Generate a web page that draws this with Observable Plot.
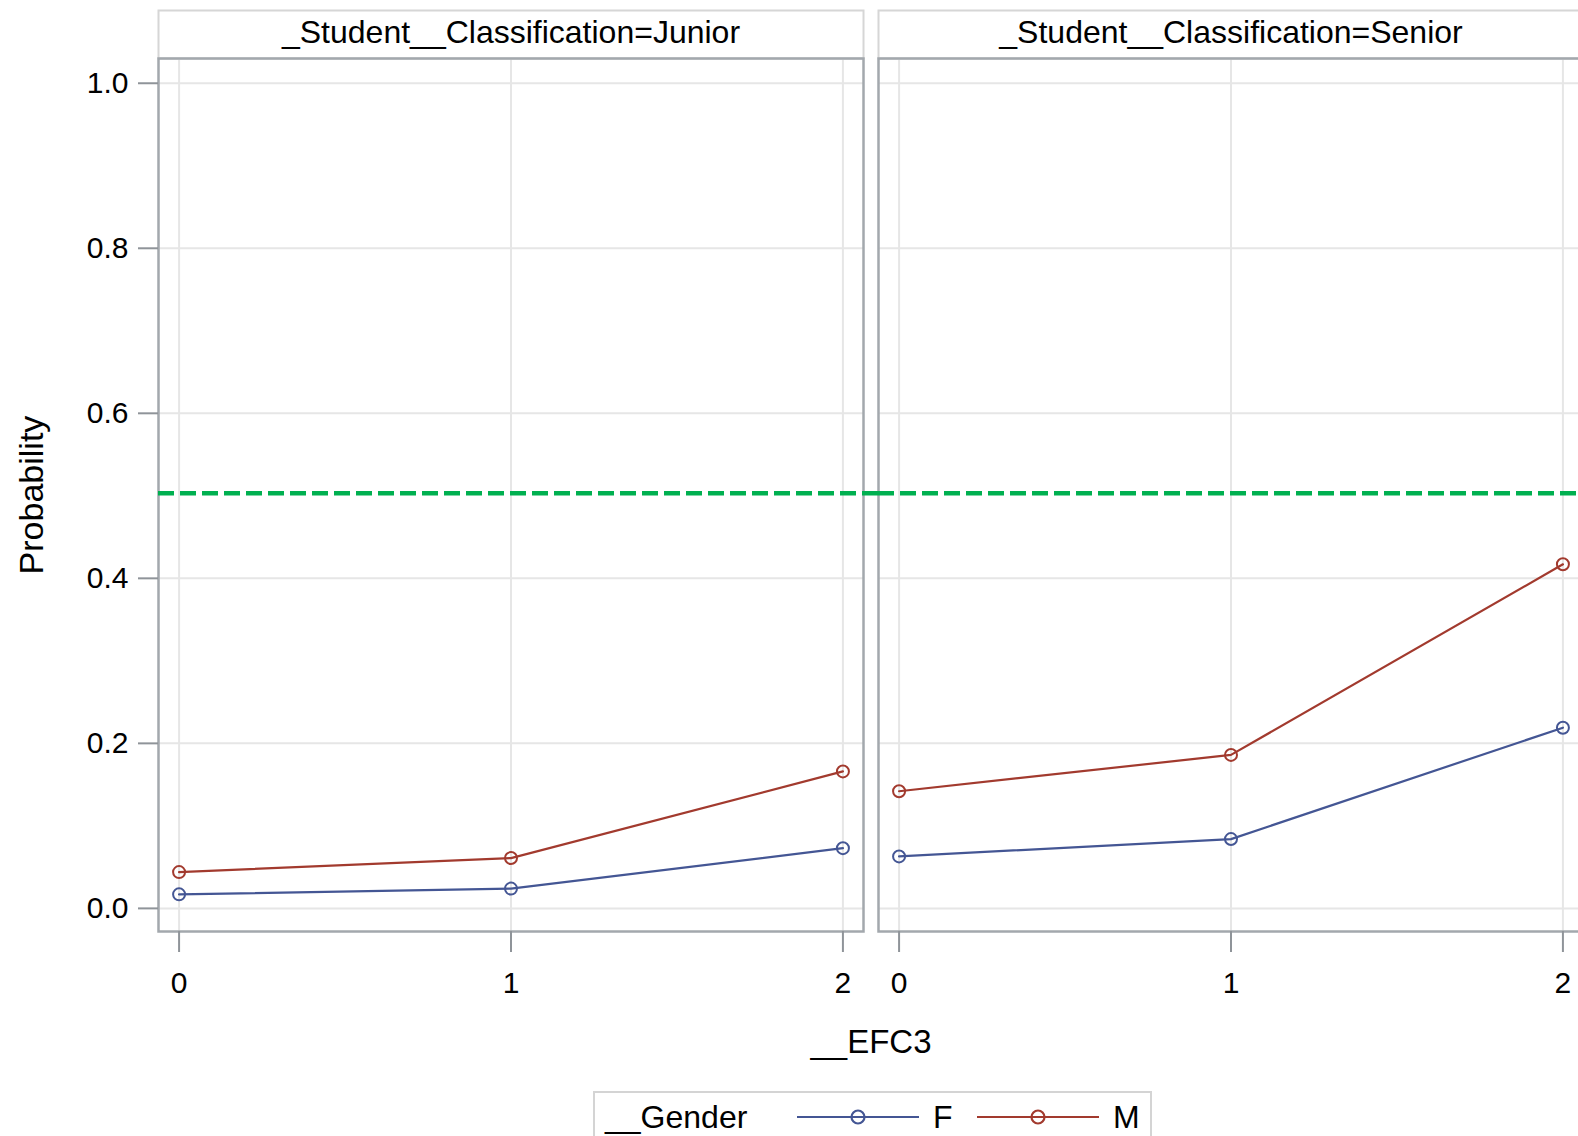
<!DOCTYPE html>
<html>
<head>
<meta charset="utf-8">
<script src="https://cdn.jsdelivr.net/npm/d3@7"></script>
<script src="https://cdn.jsdelivr.net/npm/@observablehq/plot@0.6"></script>
<style>
html, body { margin: 0; padding: 0; overflow: hidden; background: #fff; }
body { width: 1578px; height: 1136px; position: relative; font-family: "Liberation Sans", Arial, sans-serif; }
#chart { position: absolute; left: 0; top: 0; width: 1584px; }
#chart svg { max-width: none !important; }
#legend { position: absolute; left: 593px; top: 1091px; width: 559px; height: 60px; border: 2px solid #d4d4d4; box-sizing: border-box; background: #fff; }
#legend span { position: absolute; font-size: 32px; line-height: 1; color: #000; }
#legend svg { position: absolute; }
</style>
</head>
<body>
<div id="chart"></div>
<div id="legend"></div>
<script>
// ---- data ----
const classes = ["Junior", "Senior"];
const genders = ["F", "M"];
const efc3 = [0, 1, 2];
const juniorF = [0.017, 0.024, 0.073];
const juniorM = [0.044, 0.061, 0.166];
const seniorF = [0.063, 0.084, 0.219];
const seniorM = [0.142, 0.186, 0.417];
const yTicks = [0, 0.2, 0.4, 0.6, 0.8, 1.0];
const threshold = [0.503];
const genderColors = ["#445694", "#A23A2E"];
const stripPrefix = "_Student__Classification=";
const xLabel = "__EFC3";
const yLabel = "Probability";
const legendTitle = "__Gender";

const seriesByClass = {
  Junior: {F: juniorF, M: juniorM},
  Senior: {F: seniorF, M: seniorM}
};
const data = classes.flatMap(c => genders.flatMap(g =>
  efc3.map((e, i) => ({cls: c, gender: g, efc3: e, p: seriesByClass[c][g][i]}))));

const FONT = '"Liberation Sans", Arial, sans-serif';

const chart = Plot.plot({
  width: 1584,
  height: 1080,
  marginLeft: 158,
  marginRight: 0,
  marginTop: 58,
  marginBottom: 149,
  style: {fontFamily: FONT, fontSize: "30px", color: "#000", background: "transparent", overflow: "visible", maxWidth: "none"},
  fx: {domain: classes, paddingInner: 0.0208, paddingOuter: 0, axis: null, label: null},
  x: {domain: [-0.062, 2.062], axis: null},
  y: {domain: [-0.028, 1.03], axis: null},
  color: {domain: genders, range: genderColors},
  marks: [
    // strip header box
    Plot.frame({insetTop: -48, insetBottom: 873, fill: "#fff", stroke: "#d6d6d6", strokeWidth: 2}),
    Plot.axisFx({anchor: "top", tickSize: 0, tickPadding: 16, label: null, fontSize: 32,
      tickFormat: d => stripPrefix + d}),
    Plot.gridX({ticks: efc3, stroke: "#e6e6e6", strokeOpacity: 1, strokeWidth: 2}),
    Plot.gridY({ticks: yTicks, stroke: "#e6e6e6", strokeOpacity: 1, strokeWidth: 2}),
    Plot.frame({stroke: "#a3a8ad", strokeWidth: 2.5}),
    Plot.axisX({ticks: efc3, tickSize: 21, tickPadding: 19, label: null, stroke: "#8f9499", strokeWidth: 2,
      tickFormat: d => String(d)}),
    Plot.axisY({ticks: yTicks, tickSize: 20, tickPadding: 10, stroke: "#8f9499", strokeWidth: 2,
      tickFormat: d3.format(".1f"), label: yLabel, labelAnchor: "center", labelOffset: 140, labelArrow: "none", fontSize: 30}),
    Plot.ruleY(threshold, {stroke: "#00B050", strokeWidth: 4.5, strokeDasharray: "16,6", insetRight: -16}),
    Plot.line(data, {fx: "cls", x: "efc3", y: "p", z: "gender", stroke: "gender", strokeWidth: 2.2}),
    Plot.dot(data, {fx: "cls", x: "efc3", y: "p", stroke: "gender", fill: "none", r: 6, strokeWidth: 2}),
    Plot.text([xLabel], {facet: "super", frameAnchor: "bottom", lineAnchor: "bottom", dy: 121, fontSize: 33, fill: "#000"})
  ]
});
document.getElementById("chart").appendChild(chart);
// enlarge the y-axis title only
d3.select(chart).selectAll("text").filter(function() { return this.textContent === yLabel; })
  .attr("font-size", 34);

// ---- legend (line + marker swatches) ----
const legend = document.getElementById("legend");
function addText(txt, left) {
  const s = document.createElement("span");
  s.textContent = txt;
  s.style.left = left + "px";
  s.style.top = "8px";
  legend.appendChild(s);
}
function addSwatch(color, left) {
  const svg = d3.create("svg").attr("width", 122).attr("height", 30)
    .style("left", left + "px").style("top", "9px");
  svg.append("line").attr("x1", 0).attr("x2", 122).attr("y1", 15).attr("y2", 15)
    .attr("stroke", color).attr("stroke-width", 2.2);
  svg.append("circle").attr("cx", 61).attr("cy", 15).attr("r", 6.5)
    .attr("fill", "none").attr("stroke", color).attr("stroke-width", 2.2);
  legend.appendChild(svg.node());
}
addText(legendTitle, 10);
addSwatch(genderColors[0], 202);
addText(genders[0], 338);
addSwatch(genderColors[1], 382);
addText(genders[1], 518);
</script>
</body>
</html>
